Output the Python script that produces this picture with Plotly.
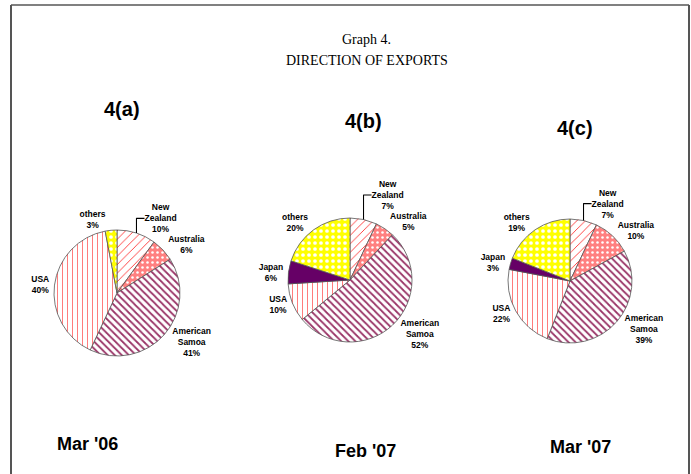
import plotly.graph_objects as go

# ---- data ----
categories_a = ["New Zealand", "Australia", "American Samoa", "USA", "others"]
values_a = [10, 6, 41, 40, 3]

categories_bc = ["New Zealand", "Australia", "American Samoa", "USA", "Japan", "others"]
values_b = [7, 5, 52, 10, 6, 20]
values_c = [7, 10, 39, 22, 3, 19]

panel_titles = ["4(a)", "4(b)", "4(c)"]
period_labels = ["Mar '06", "Feb '07", "Mar '07"]

display_names = {
    "New Zealand": "New<br>Zealand",
    "Australia": "Australia",
    "American Samoa": "American<br>Samoa",
    "USA": "USA",
    "Japan": "Japan",
    "others": "others",
}

styles = {
    "New Zealand": dict(shape="/", fg="#FF3333", bg="#FFFFFF", size=6, sol=0.15),
    "Australia": dict(shape=".", fg="#FFFFFF", bg="#FF8080", size=5, sol=0.2),
    "American Samoa": dict(shape="\\", fg="#993366", bg="#FFFFFF", size=5, sol=0.35),
    "USA": dict(shape="|", fg="#FF5050", bg="#FFFFFF", size=5, sol=0.15),
    "Japan": dict(shape="", fg="#660066", bg="#660066", size=6, sol=0.3),
    "others": dict(shape=".", fg="#FFFFFF", bg="#FFFF00", size=6, sol=0.3),
}

LABEL_FONT = "Liberation Sans, Arial, sans-serif"

W, H = 691, 474


def make_pie(cats, vals, cx, cy, diam):
    dx = 200 / W / 2
    dy = diam / H / 2
    st = [styles[c] for c in cats]
    return go.Pie(
        labels=cats,
        values=vals,
        customdata=[display_names[c] for c in cats],
        sort=False,
        direction="clockwise",
        rotation=0,
        texttemplate="%{customdata}<br>%{value}%",
        textposition="outside",
        textfont=dict(family=LABEL_FONT, size=8.5, color="#000000", weight="bold"),
        marker=dict(
            colors=[s["bg"] for s in st],
            line=dict(color="#555555", width=0.8),
            pattern=dict(
                shape=[s["shape"] for s in st],
                fgcolor=[s["fg"] for s in st],
                bgcolor=[s["bg"] for s in st],
                size=[s["size"] for s in st],
                solidity=[s["sol"] for s in st],
                fillmode="replace",
            ),
        ),
        domain=dict(x=[cx / W - dx, cx / W + dx], y=[1 - cy / H - dy, 1 - cy / H + dy]),
        showlegend=False,
        hoverinfo="label+percent",
    )


fig = go.Figure()
fig.add_trace(make_pie(categories_a, values_a, 117, 293, 126))
fig.add_trace(make_pie(categories_bc, values_b, 350, 280, 124))
fig.add_trace(make_pie(categories_bc, values_c, 570, 281, 124))

annotations = [
    dict(text="Graph 4.", x=367 / W, y=1 - 40 / H),
    dict(text="DIRECTION OF EXPORTS", x=367 / W, y=1 - 61 / H),
]
for a in annotations:
    a.update(xref="paper", yref="paper", showarrow=False, xanchor="center", yanchor="middle",
             font=dict(family="Liberation Serif, Times New Roman, serif", size=14, color="#000000"))

head_pos = [(122, 109), (363, 121), (575, 128)]
for t, (x, y) in zip(panel_titles, head_pos):
    annotations.append(dict(text=t, x=x / W, y=1 - y / H, xref="paper", yref="paper",
                            showarrow=False, xanchor="center", yanchor="middle",
                            font=dict(family=LABEL_FONT, size=20, color="#000000", weight="bold")))

foot_pos = [(88, 444), (365, 451), (580, 447)]
for t, (x, y) in zip(period_labels, foot_pos):
    annotations.append(dict(text=t, x=x / W, y=1 - y / H, xref="paper", yref="paper",
                            showarrow=False, xanchor="center", yanchor="middle",
                            font=dict(family=LABEL_FONT, size=18, color="#000000", weight="bold")))

fig.update_layout(
    width=W,
    height=H,
    margin=dict(l=0, r=0, t=0, b=0, pad=0, autoexpand=False),
    paper_bgcolor="#FFFFFF",
    plot_bgcolor="#FFFFFF",
    annotations=annotations,
    shapes=[
        dict(type="line", xref="paper", yref="paper", x0=11 / W, x1=689 / W, y0=1 - 5 / H, y1=1 - 5 / H,
             line=dict(color="#808080", width=2)),
        dict(type="line", xref="paper", yref="paper", x0=11 / W, x1=11 / W, y0=1 - 5 / H, y1=0,
             line=dict(color="#555555", width=2)),
        dict(type="line", xref="paper", yref="paper", x0=689 / W, x1=689 / W, y0=1 - 5 / H, y1=0,
             line=dict(color="#555555", width=2)),
    ],
)

fig.write_html("out.html")
